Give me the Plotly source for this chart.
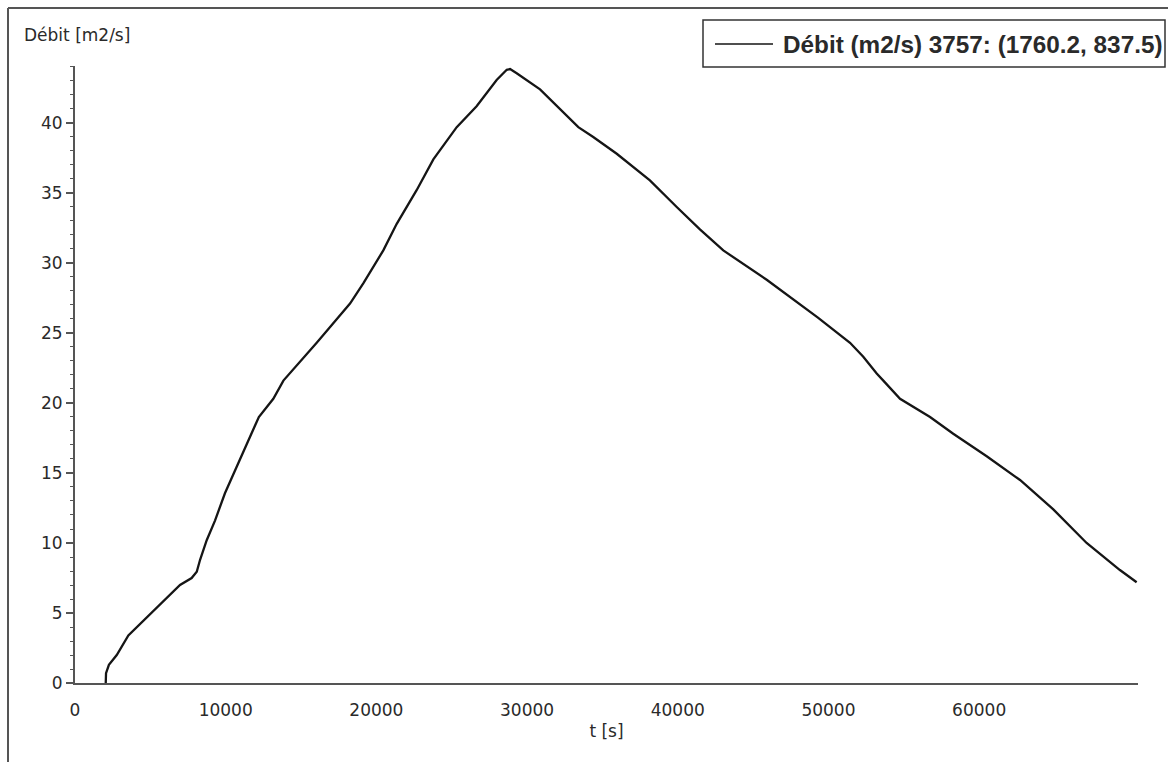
import plotly.graph_objects as go

# Débit (m2/s) vs time t (s)
t_s = [2040, 2060, 2250, 2770, 3540, 4800, 6085, 6970, 7740, 8080, 8300, 8740,
       9290, 9950, 10730, 11390, 12200, 13160, 13830, 16040, 18250, 19130, 20460,
       21350, 22670, 23780, 25330, 26650, 27980, 28650, 28870, 29310, 30860, 33400,
       34390, 35950, 38150, 39930, 41470, 43020, 45900, 49300, 51430, 52310, 53200,
       53640, 54750, 56740, 58280, 60500, 62710, 64920, 67130, 69340, 70450]
debit = [0.0, 0.7, 1.3, 2.0, 3.4, 4.7, 6.05, 7.0, 7.5, 7.95, 8.8, 10.2,
         11.6, 13.55, 15.45, 17.1, 19.0, 20.3, 21.6, 24.3, 27.1, 28.55, 30.9,
         32.8, 35.2, 37.4, 39.7, 41.2, 43.07, 43.8, 43.85, 43.55, 42.4, 39.7,
         39.0, 37.8, 35.9, 34.0, 32.4, 30.9, 28.8, 26.1, 24.3, 23.3, 22.1,
         21.6, 20.3, 19.0, 17.8, 16.2, 14.5, 12.4, 10.0, 8.07, 7.2]

x_ticks = [0, 10000, 20000, 30000, 40000, 50000, 60000]
x_tick_labels = ["0", "10000", "20000", "30000", "40000", "50000", "60000"]
y_ticks = [0, 5, 10, 15, 20, 25, 30, 35, 40]

series_name = "Débit (m2/s) 3757: (1760.2, 837.5)"
y_title = "Débit [m2/s]"
x_title = "t [s]"

TICK_FONT = dict(family="DejaVu Sans", size=17, color="#2a2a2a")
AXIS_COLOR = "#555555"

# pixel -> paper helpers for the plot area (left 75, right 1138, top 66, bottom 683)
PL, PR, PT, PB = 75, 1138, 66, 683
def px(x):
    return (x - PL) / (PR - PL)
def py(y):
    return (PB - y) / (PB - PT)

fig = go.Figure()
fig.add_trace(go.Scatter(
    x=t_s, y=debit, mode="lines", name=series_name,
    line=dict(color="#151515", width=2.3),
    showlegend=False,
))

fig.update_layout(
    width=1168, height=762,
    margin=dict(l=PL, r=1168 - PR, t=PT, b=762 - PB, autoexpand=False),
    paper_bgcolor="white", plot_bgcolor="white",
    showlegend=False,
    xaxis=dict(
        range=[0, 70540], tickvals=x_ticks, ticktext=x_tick_labels,
        showgrid=False, zeroline=False,
        showline=True, linecolor=AXIS_COLOR, linewidth=2,
        ticks="", tickfont=TICK_FONT, ticklabelstandoff=11,
        title=dict(text=x_title, font=TICK_FONT, standoff=6),
    ),
    yaxis=dict(
        range=[0, 44.07], tickvals=y_ticks, showgrid=False, zeroline=False,
        showline=True, linecolor=AXIS_COLOR, linewidth=2,
        ticks="outside", ticklen=7, tickwidth=1.5, tickcolor=AXIS_COLOR,
        tickfont=TICK_FONT,
        minor=dict(dtick=1, ticks="outside", ticklen=3, tickwidth=1, tickcolor=AXIS_COLOR),
    ),
    annotations=[
        dict(text=y_title, xref="paper", yref="paper",
             x=px(22), y=py(35),
             xanchor="left", yanchor="middle", showarrow=False, font=TICK_FONT),
        # legend text
        dict(text=series_name, xref="paper", yref="paper",
             x=px(781), y=py(44), xanchor="left", yanchor="middle", showarrow=False,
             font=dict(family="Liberation Sans", size=24.3, color="#2a2a2a", weight="bold")),
    ],
    shapes=[
        # window frame
        dict(type="line", xref="paper", yref="paper",
             x0=px(8), x1=px(8), y0=py(800), y1=py(8),
             line=dict(color=AXIS_COLOR, width=2)),
        dict(type="line", xref="paper", yref="paper",
             x0=px(8), x1=px(1200), y0=py(8), y1=py(8),
             line=dict(color=AXIS_COLOR, width=2)),
        # legend box
        dict(type="rect", xref="paper", yref="paper",
             x0=px(703), x1=px(1165), y0=py(67), y1=py(20),
             line=dict(color="#333333", width=1.5), fillcolor="white", layer="below"),
        # legend line sample
        dict(type="line", xref="paper", yref="paper",
             x0=px(715), x1=px(773), y0=py(44), y1=py(44),
             line=dict(color="#151515", width=1.5)),
    ],
)

fig.write_html("out.html", config={"displayModeBar": False},
               post_script="document.body.style.margin='0px';")
